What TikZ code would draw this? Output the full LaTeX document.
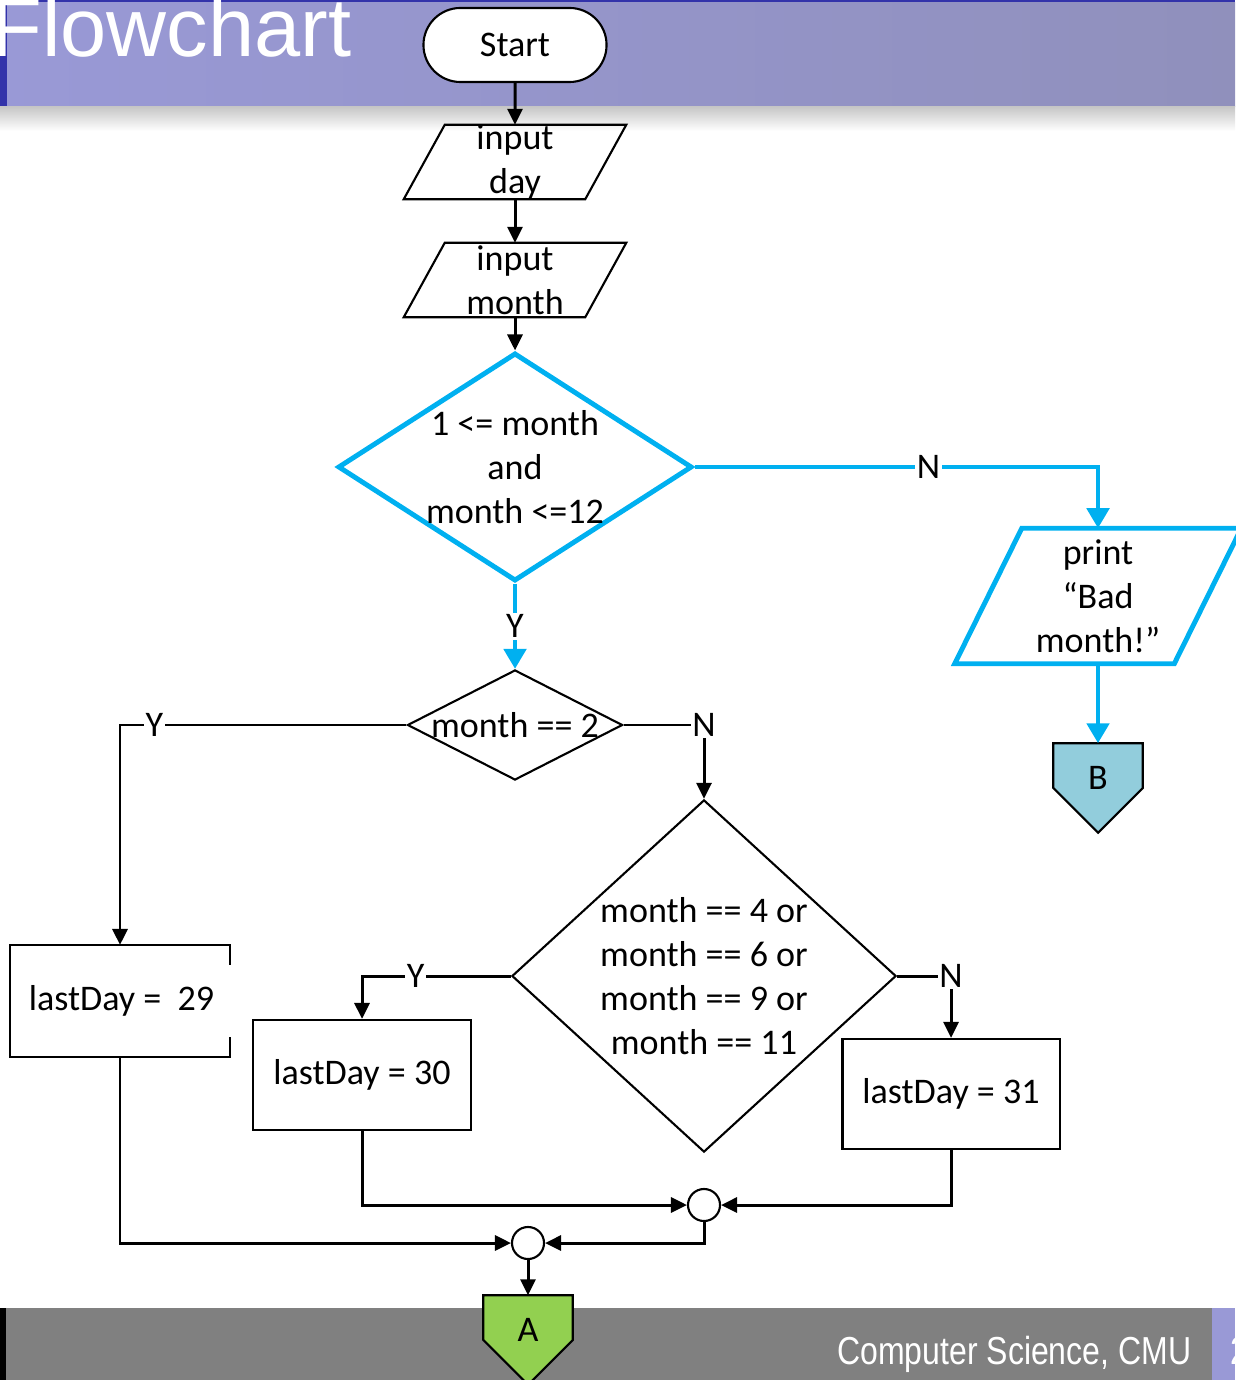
\documentclass[tikz,border=0pt]{standalone}
\usepackage{fontspec}
\setmainfont{Carlito}
\newfontfamily\titlefont{Liberation Sans}
\newfontfamily\footfont[FakeStretch=0.82]{Liberation Sans}
\usetikzlibrary{shapes.geometric,shapes.misc,arrows.meta}
\definecolor{flowblue}{HTML}{00B0F0}
\definecolor{barpurple}{HTML}{9999D6}
\definecolor{barpurpleend}{HTML}{9090BC}
\definecolor{bardark}{HTML}{3333AA}
\definecolor{footgray}{HTML}{808080}
\definecolor{bfill}{HTML}{92CDDC}
\definecolor{afill}{HTML}{92D050}
\tikzset{
  txt/.style={font=\fontsize{10.25}{12.5}\selectfont, align=center, inner sep=0pt},
  startstop/.style={txt, rounded rectangle, draw, fill=white, line width=0.6pt, minimum width=1.83cm, minimum height=0.74cm},
  io/.style={rectangle, inner sep=0pt, minimum width=2.21cm, minimum height=0.73cm},
  decision/.style={diamond, draw, line width=0.6pt, inner sep=1pt},
  process/.style={txt, rectangle, draw, line width=0.6pt, minimum width=2.17cm, minimum height=1.1cm},
  merge/.style={circle, draw, fill=white, line width=0.6pt, minimum size=0.32cm, inner sep=0pt},
  offpage/.style={rectangle, inner sep=0pt, minimum size=0.88cm},
  flow/.style={line width=0.85pt, -{Triangle[length=0.16cm, width=0.15cm]}},
  blueflow/.style={line width=1.4pt, draw=flowblue, -{Triangle[length=0.2cm, width=0.22cm]}},
  lbl/.style={txt, fill=white, inner sep=0.5pt}
}
\begin{document}
\begin{tikzpicture}[x=0.01cm, y=-0.01cm]
  \useasboundingbox (0,0) rectangle (1235,1380);
  \fill[bardark] (0,0) rectangle (1235,3);
  \shade[left color=barpurple, right color=barpurpleend] (0,3) rectangle (1235,107);
  \fill[bardark] (0,0) rectangle (7,107);
  \shade[top color=black!22, bottom color=white] (0,107) rectangle (1235,131);
  \node[anchor=base west, inner sep=0pt, text=white,
    font=\titlefont\fontsize{23.6}{28}\selectfont] (title) at (-9,57) {Flowchart};
  \fill[footgray] (0,1308) rectangle (1212,1380);
  \fill[black] (0,1308) rectangle (6,1380);
  \fill[barpurple] (1212,1308) rectangle (1235,1380);
  \node[anchor=base east, inner sep=0pt, text=white,
    font=\footfont\fontsize{11.1}{13}\selectfont] (foot) at (1192,1364) {Computer Science, CMU};
  \node[anchor=base west, inner sep=0pt, text=white,
    font=\footfont\fontsize{11.1}{13}\selectfont] (page) at (1230,1364) {2};

  \node[startstop] (start) at (515,45) {Start};
  \node[io, label={[txt]center:{input\\day}}] (day) at (515,162) {};
  \draw[line width=0.6pt] ([xshift=0.41cm]day.north west) -- (day.north east)
    -- ([xshift=-0.41cm]day.south east) -- (day.south west) -- cycle;
  \node[io, label={[txt]center:{input\\month}}] (month) at (515,280) {};
  \draw[line width=0.6pt] ([xshift=0.41cm]month.north west) -- (month.north east)
    -- ([xshift=-0.41cm]month.south east) -- (month.south west) -- cycle;
  \node[decision, draw=flowblue, line width=1.4pt, minimum width=3.54cm, minimum height=2.28cm,
    label={[txt]center:{1 <= month\\and\\month <=12}}] (range) at (515,467) {};
  \node[io, minimum width=2.85cm, minimum height=1.34cm,
    label={[txt]center:{print\\“Bad\\month!”}}] (bad) at (1098,596) {};
  \draw[line width=1.4pt, flowblue] ([xshift=0.67cm]bad.north west) -- (bad.north east)
    -- ([xshift=-0.67cm]bad.south east) -- (bad.south west) -- cycle;
  \node[offpage] (b) at (1098,788) {};
  \filldraw[line width=0.6pt, fill=bfill] (b.north west) -- (b.north east) -- (b.east) -- (b.south) -- (b.west) -- cycle;
  \node[txt] (btext) at (1098,778) {B};
  \node[decision, minimum width=2.15cm, minimum height=1.1cm,
    label={[txt]center:month == 2}] (feb) at (515,725) {};
  \node[decision, minimum width=3.84cm, minimum height=3.52cm,
    label={[txt]center:{month == 4 or\\month == 6 or\\month == 9 or\\month == 11}}] (short) at (704,976) {};
  \node[process, draw=none] (leap) at (120,1001) {\hspace{0.03cm}lastDay = \ 29};
  \draw[line width=0.6pt] ([yshift=-0.2cm]leap.north east) -- (leap.north east) -- (leap.north west)
    -- (leap.south west) -- (leap.south east) -- ([yshift=0.2cm]leap.south east);
  \node[process] (thirty) at (362,1075) {lastDay = 30};
  \node[process] (long) at (951,1094) {lastDay = 31};
  \node[merge] (j1) at (704,1205) {};
  \node[merge] (j2) at (528,1243) {};
  \node[offpage] (a) at (528,1340) {};
  \filldraw[line width=0.6pt, fill=afill] (a.north west) -- (a.north east) -- (a.east) -- (a.south) -- (a.west) -- cycle;
  \node[txt] (atext) at (528,1330) {A};

  \draw[flow] (start) -- (day);
  \draw[flow] (day) -- (month);
  \draw[flow] (month) -- (range);
  \draw[blueflow] (range) -- node[lbl]{Y} (feb);
  \draw[blueflow] (range.east) -| node[lbl, pos=0.29]{N} (bad.north);
  \draw[blueflow] (bad) -- (b);
  \draw[flow] (feb.west) -| node[lbl, pos=0.44]{Y} (leap.north);
  \draw[flow] (feb.east) -| node[lbl]{N} (short.north);
  \draw[flow] (short.west) -| node[lbl, pos=0.32]{Y} (thirty.north);
  \draw[flow] (short.east) -| node[lbl]{N} (long.north);
  \draw[flow] (thirty.south) |- (j1);
  \draw[flow] (long.south) |- (j1);
  \draw[flow] (leap.south) |- (j2);
  \draw[flow] (j1.south) |- (j2);
  \draw[flow] (j2) -- (a);
\end{tikzpicture}
\end{document}
